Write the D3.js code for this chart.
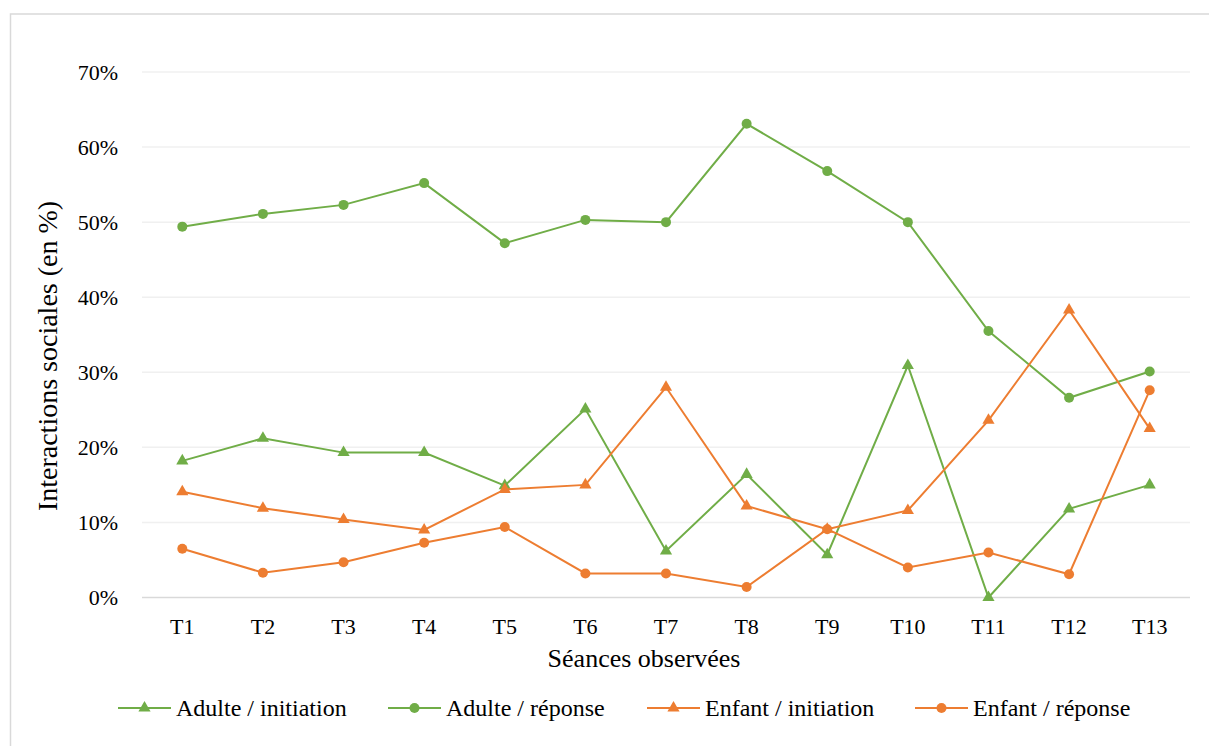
<!DOCTYPE html>
<html>
<head>
<meta charset="utf-8">
<script src="https://cdn.jsdelivr.net/npm/d3@7"></script>
<style>
    body { margin: 0; background: #fff; }
    text { font-family: "Liberation Serif", "Times New Roman", serif; fill: #000; }
</style>
</head>
<body>
<div id="chart"></div>
<script>
var seances = ["T1", "T2", "T3", "T4", "T5", "T6", "T7", "T8", "T9", "T10", "T11", "T12", "T13"];
var yTicks = [0, 10, 20, 30, 40, 50, 60, 70];

// valeurs en %
var adulteInitiation = [18.2, 21.2, 19.3, 19.3, 14.9, 25.1, 6.2, 16.4, 5.7, 30.9, 0, 11.8, 15.0];
var adulteReponse = [49.4, 51.1, 52.3, 55.2, 47.2, 50.3, 50.0, 63.1, 56.8, 50.0, 35.5, 26.6, 30.1];
var enfantInitiation = [14.1, 11.9, 10.4, 9.0, 14.4, 15.0, 28.0, 12.2, 9.1, 11.6, 23.6, 38.3, 22.5];
var enfantReponse = [6.5, 3.3, 4.7, 7.3, 9.4, 3.2, 3.2, 1.4, 9.1, 4.0, 6.0, 3.1, 27.6];

var seriesNames = ["Adulte / initiation", "Adulte / réponse", "Enfant / initiation", "Enfant / réponse"];
var seriesValues = [adulteInitiation, adulteReponse, enfantInitiation, enfantReponse];
var seriesColors = ["#70AD47", "#70AD47", "#ED7D31", "#ED7D31"];
var seriesMarkers = ["triangle", "circle", "triangle", "circle"];

var W = 1209, H = 746;
var mLeft = 142, mRight = 1190, mTop = 72, mBottom = 597.5;

var svg = d3.select("#chart").append("svg")
    .attr("width", W)
    .attr("height", H);

// cadre
svg.append("rect")
    .attr("x", 10.5).attr("y", 14)
    .attr("width", W).attr("height", H)
    .attr("fill", "none")
    .attr("stroke", "#d9d9d9")
    .attr("stroke-width", 1.5);

var x = d3.scaleBand().domain(seances).range([mLeft, mRight]);
var y = d3.scaleLinear().domain([0, 70]).range([mBottom, mTop]);

// grille
svg.append("g").selectAll("line")
    .data(yTicks)
    .enter().append("line")
    .attr("x1", mLeft).attr("x2", mRight)
    .attr("y1", function (d) { return y(d); })
    .attr("y2", function (d) { return y(d); })
    .attr("stroke", function (d) { return d === 0 ? "#d9d9d9" : "#f0f0f0"; })
    .attr("stroke-width", 1.5);

// axe y
var yAxis = svg.append("g")
    .attr("transform", "translate(" + mLeft + ",0)")
    .call(d3.axisLeft(y).tickValues(yTicks).tickSize(0).tickPadding(24)
        .tickFormat(function (d) { return d + "%"; }));
yAxis.select(".domain").remove();
yAxis.selectAll("text")
    .style("font-family", "Liberation Serif")
    .style("font-size", "22px")
    .attr("fill", "#000");

// axe x
var xAxis = svg.append("g")
    .attr("transform", "translate(0," + mBottom + ")")
    .call(d3.axisBottom(x).tickSize(0).tickPadding(21));
xAxis.select(".domain").remove();
xAxis.selectAll("text")
    .style("font-family", "Liberation Serif")
    .style("font-size", "22px")
    .attr("fill", "#000");

// titres
svg.append("text")
    .attr("x", 644)
    .attr("y", 667)
    .attr("text-anchor", "middle")
    .style("font-size", "26px")
    .text("Séances observées");

svg.append("text")
    .attr("transform", "translate(57,356) rotate(-90)")
    .attr("text-anchor", "middle")
    .style("font-size", "28px")
    .text("Interactions sociales (en %)");

var line = d3.line()
    .x(function (d, i) { return x(seances[i]) + x.bandwidth() / 2; })
    .y(function (d) { return y(d); });

var triangle = d3.symbol().type(d3.symbolTriangle).size(64);

function drawMarker(sel, kind, color) {
    if (kind === "circle") {
        sel.append("circle").attr("r", 5).attr("fill", color);
    } else {
        sel.append("path").attr("d", triangle).attr("fill", color);
    }
}

seriesValues.forEach(function (vals, k) {
    var g = svg.append("g");
    g.append("path")
        .datum(vals)
        .attr("d", line)
        .attr("fill", "none")
        .attr("stroke", seriesColors[k])
        .attr("stroke-width", 2);
    g.selectAll("g.pt")
        .data(vals)
        .enter().append("g")
        .attr("class", "pt")
        .attr("transform", function (d, i) {
            return "translate(" + (x(seances[i]) + x.bandwidth() / 2) + "," + y(d) + ")";
        })
        .each(function () { drawMarker(d3.select(this), seriesMarkers[k], seriesColors[k]); });
});

// légende
var legendX = [118, 388, 647, 915];
var legendLen = 53;
seriesNames.forEach(function (name, k) {
    var lg = svg.append("g").attr("transform", "translate(" + legendX[k] + ",708)");
    lg.append("line")
        .attr("x1", 0).attr("x2", legendLen)
        .attr("y1", 0).attr("y2", 0)
        .attr("stroke", seriesColors[k])
        .attr("stroke-width", 2);
    var m = lg.append("g").attr("transform", "translate(" + legendLen / 2 + ",0)");
    drawMarker(m, seriesMarkers[k], seriesColors[k]);
    lg.append("text")
        .attr("x", legendLen + 5)
        .attr("y", 8)
        .style("font-size", "24px")
        .text(name);
});
</script>
</body>
</html>
